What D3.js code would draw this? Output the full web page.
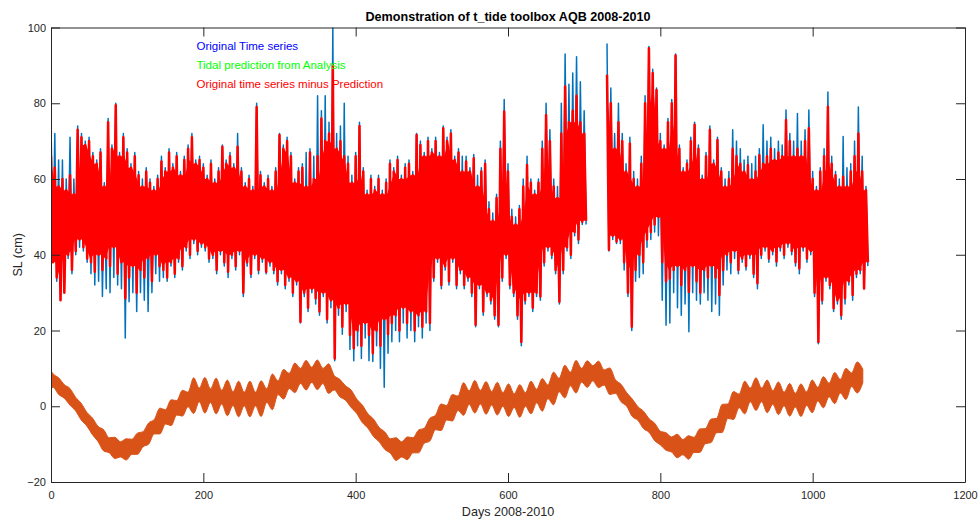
<!DOCTYPE html>
<html>
<head>
<meta charset="utf-8">
<script src="https://cdn.jsdelivr.net/npm/d3@7/dist/d3.min.js"></script>
<style>
  body { margin: 0; background: #fff; }
  text { font-family: "Liberation Sans", Arial, Helvetica, sans-serif; }
</style>
</head>
<body>
<script>
// samples every 5 days: max / min of each bin (null = no data)
let binStep = 5;

let redHi = [
  66, 63, 58, 60, 57, 61, 56, 73, 71, 69,
  70, 66, 64, 67, 58, 75, 68, 79.5, 66, 71,
  67, 63, 66, 61, 58, 62, 59, 57, 60, 64.6,
  62, 67, 63, 66, 61, 65, 68, 71, 64, 65,
  63, 60, 64, 59, 62, 68.5, 64, 66, 63, 68.5,
  62, 58, 60, 57, 79, 61, 58, 60, 57, 62,
  71.6, 68, 70, 66, 59, 62, 63, 58, 67, 60,
  66, 76, 70, 72, 90, 68, 70, 66, 64, 59,
  66, 74, 62, 56, 60, 57, 60, 56, 59, 64,
  62, 65, 60, 63, 64, 61, 71.6, 69, 66, 70,
  67, 70, 66, 73.4, 70, 72, 65, 67, 62, 64.6,
  62, 65.5, 58, 62, 64, 52, 49, 55, 68, 77.8,
  62, 50, 48, 52, 58, 63.7, 59, 56, 59, 68,
  76.9, 70, 58, 55, 72, 84.4, 75, 78, 82, 75,
  72, null, null, null, null, null, 87.5, 80, 68, 75,
  70, 62, 69.4, 60, 58, 64, 80, 94.5, 88, 83.5,
  70, 68, 75, 80, 92.6, 68, 62, 64, 70, 74.3,
  68, 60, 66, 73, 64, 70.3, 62, 58, 60, 68,
  66, 64, 62, 63.7, 60, 62, 66.3, 64, 66, 68,
  65, 67, 66, 75.6, 70, 66, 68, 66, 70, 73.4,
  60, 57, 62, 66, 79.1, 64, 61, 58, 60.6, 58,
  62, 66, 72, 62, 57
];

let redLo = [
  38, 34, 28, 30, 40, 36, 41, 44, 42, 39,
  38, 35.5, 40, 36, 39, 37, 42, 35, 38, 28.5,
  34, 37, 30, 36, 34, 39, 33, 40, 37, 36,
  34, 38, 35, 39, 37, 42, 40, 44, 41, 43,
  42, 39, 40, 36, 41, 38, 35.5, 40, 37, 41,
  30, 38, 35, 40, 36, 39, 35.5, 38, 36, 33,
  36, 32, 34, 30, 33, 22.3, 30, 26, 31, 28.5,
  25, 30, 23, 28, 12.6, 26, 21, 27, 18.8, 15.3,
  20, 16, 22, 18.8, 14, 20, 16, 23, 19, 22,
  24, 20, 26, 22, 25, 20, 24, 21, 25, 22,
  34, 39, 32, 37, 33, 39, 32, 36, 32, 34,
  30, 21.5, 32, 25, 30, 28, 24, 21.5, 34, 40,
  32, 30, 24, 17, 28, 30, 26, 30, 29, 38,
  42, 40, 36, 27.6, 36, 42, 40, 46, 44, 48.7,
  49, null, null, null, null, null, 41.3, 45, 43.5, 44,
  38, 30, 21, 36, 40, 38, 44, 46, 48, 50,
  38, 33, 33.7, 36, 37, 32, 36, 30.2, 37, 33,
  30, 36, 34, 37, 34, 29.4, 36, 40, 38, 41,
  36, 39, 37, 40, 35, 32.5, 40, 42, 39, 41,
  38.2, 42, 40, 43, 41, 38, 36.4, 42, 39, 41,
  30, 17, 28, 34, 32, 25.9, 28, 24, 28.5, 33,
  29.4, 35, 36, 31.1, 38
];

let blueHi = [
  76, 72, 65, 65, 60, 71, 60, 74, 72, 70,
  71, 67, 65, 68, 59, 76, 69, 80, 67, 72,
  68, 64, 67, 62, 60, 63, 60, 58, 61, 66,
  63, 68, 64, 67, 62, 66, 69, 72, 65, 66,
  64, 61, 65, 60, 63, 69, 65, 67, 64, 72,
  63, 59, 61, 58, 80, 62, 59, 61, 58, 63,
  72, 69, 71, 67, 60, 63, 64, 67, 68, 66,
  82, 78, 82, 75, 100, 72, 74, 80, 66, 61,
  67, 75, 63, 57, 61, 58, 61, 57, 60, 65,
  63, 66, 61, 64, 65, 62, 72, 70, 67, 71,
  68, 71, 67, 74, 71, 73, 66, 68, 66, 66,
  63, 66.5, 61, 63, 65, 54, 51, 56, 70, 81,
  64, 52, 50, 53, 60, 66, 60, 57, 60, 70,
  80, 73, 60, 58, 80, 93, 85, 88, 92.3, 85.7,
  78, null, null, null, null, null, 95.8, 84, 72, 80,
  72, 64, 71, 62, 60, 66, 82, 95, 89, 84,
  72, 69, 76, 81, 93, 69, 63, 65, 71, 75,
  69, 61, 67, 74, 65, 71, 63, 60, 62, 73,
  70, 68, 65, 66, 64, 66, 68, 74.3, 70, 71,
  68, 70, 69, 78.2, 72, 70, 77.3, 70, 73, 78.2,
  62, 58, 63, 68, 83, 66, 62, 60, 71.2, 63,
  64, 70, 79, 66, 58
];

let blueLo = [
  38, 33, 28, 30, 39, 35, 40, 42, 41, 38,
  35, 32, 33, 29, 31, 30, 34, 32, 31, 18,
  27.6, 30, 25, 30, 28, 25, 30, 35, 33, 34,
  33, 37, 34, 38, 36, 41, 39, 43, 40, 42,
  41, 38, 39, 35, 40, 37, 34, 39, 36, 40,
  29, 37, 34, 39, 35, 38, 35, 37, 35, 32,
  35, 31, 33, 29, 32, 22, 29, 25, 30, 27,
  24, 29, 22, 26, 12, 24, 19, 25, 15, 12,
  16, 12.6, 18, 12, 11.8, 16, 10, 5, 14, 17,
  20, 17, 22, 18, 20, 17, 21, 18, 22, 20,
  33, 38, 31, 36, 32, 38, 31, 35, 31, 33,
  29, 21, 31, 24, 29, 27, 23, 21, 33, 39,
  31, 29, 23, 16, 27, 29, 25, 29, 28, 37,
  41, 39, 35, 27, 35, 41, 39, 45, 43, 48,
  48, null, null, null, null, null, 41, 44, 43, 43,
  36, 29, 20, 33, 34, 35, 42, 44, 46, 45,
  28, 21.4, 22, 30, 26, 24, 27, 19.7, 30, 28,
  27, 30, 28, 25, 27, 24, 32, 36, 35, 39,
  35, 38, 36, 39, 34, 31, 39, 41, 38, 40,
  37, 41, 39, 42, 40, 37, 35, 41, 38, 40,
  29, 16.5, 27, 33, 31, 25, 27, 23, 27, 32,
  28, 34, 35, 31, 37
];

// tidal prediction: centre and half width, sampled at spring / neap (half a fortnight)
let tideStart = -4.7, tideStep = 7.383;

let tideMid = [
  7.2, 6.8, 5.3, 3.9, 2.5, 0.6, -1.4, -3.4, -5.3, -7.3,
  -9.0, -10.3, -11.0, -11.4, -11.4, -10.7, -9.9, -8.7, -7.2, -5.4,
  -3.9, -2.8, -1.7, -0.4, 0.8, 1.8, 2.8, 3.0, 2.9, 2.8,
  2.7, 2.4, 2.2, 2.0, 1.9, 1.9, 1.9, 1.9, 2.0, 2.8,
  3.8, 4.9, 5.8, 6.7, 7.5, 8.0, 8.2, 8.3, 8.3, 8.0,
  7.3, 6.2, 4.8, 3.5, 2.0, 0.0, -2.0, -3.9, -5.7, -7.5,
  -9.1, -10.5, -11.3, -11.4, -11.1, -10.3, -9.3, -7.8, -6.2, -4.3,
  -2.9, -1.7, -0.4, 0.8, 1.9, 2.3, 2.5, 2.4, 2.2, 2.1,
  2.0, 1.8, 1.6, 1.5, 1.4, 1.8, 2.3, 2.7, 3.0, 3.8,
  4.7, 5.6, 6.5, 7.2, 7.8, 8.2, 8.5, 8.7, 8.4, 7.6,
  6.6, 5.2, 3.5, 1.8, -0.4, -1.9, -3.6, -5.1, -6.8, -8.4,
  -9.3, -10.1, -10.5, -10.8, -10.9, -10.2, -9.1, -7.9, -6.5, -5.1,
  -3.2, -1.3, 0.2, 1.4, 2.3, 3.0, 3.2, 3.0, 2.6, 2.3,
  2.1, 1.9, 1.7, 1.6, 1.6, 2.0, 2.6, 3.2, 3.7, 4.3,
  4.8, 5.3, 5.9, 7.0, 7.6, 8.0
];

let tideHalf = [
  2.2, 1.8, 2.2, 1.8, 2.2, 1.8, 2.2, 1.8, 2.2, 2.0,
  2.8, 2.0, 2.8, 2.0, 2.8, 2.0, 2.8, 2.0, 2.8, 1.9,
  3.4, 1.9, 3.4, 1.9, 3.4, 1.9, 4.7, 1.8, 4.7, 1.8,
  4.7, 1.8, 4.7, 1.8, 4.7, 1.8, 4.7, 1.8, 4.7, 1.8,
  4.7, 1.8, 3.9, 2.0, 3.9, 2.0, 3.9, 2.0, 3.9, 2.0,
  3.9, 1.9, 2.3, 1.9, 2.3, 1.9, 2.3, 1.9, 2.3, 1.9,
  2.3, 1.9, 3.0, 2.0, 3.0, 2.0, 3.0, 2.0, 3.0, 1.9,
  3.5, 1.9, 3.5, 1.9, 4.3, 1.8, 4.3, 1.8, 4.3, 1.8,
  4.3, 1.8, 4.3, 1.8, 4.3, 1.8, 4.3, 1.8, 4.3, 1.8,
  4.3, 1.8, 4.3, 1.8, 4.3, 1.8, 3.5, 2.0, 3.5, 2.0,
  3.5, 1.8, 2.3, 1.8, 2.3, 1.8, 2.3, 1.8, 2.3, 1.8,
  2.3, 2.0, 3.1, 2.0, 3.1, 2.0, 3.1, 2.0, 3.1, 1.9,
  3.7, 1.9, 3.7, 1.8, 4.3, 1.8, 4.3, 1.8, 4.3, 1.8,
  4.3, 1.8, 4.3, 1.8, 4.3, 1.8, 4.3, 1.8, 4.1, 1.8,
  4.1, 1.8, 4.1, 1.8, 4.1, 1.8
];

let xTicks = [0, 200, 400, 600, 800, 1000, 1200];
let yTicks = [-20, 0, 20, 40, 60, 80, 100];

let notes = [
  { text: "Original Time series", day: 191, value: 95, color: "#0000ff" },
  { text: "Tidal prediction from Analysis", day: 191, value: 90, color: "#00ff00" },
  { text: "Original time series minus Prediction", day: 191, value: 85, color: "#ff0000" }
];

let axisColor = "#262626";

let xScale = d3.scaleLinear()
    .domain([0, 1200])
    .range([51, 965]);

let yScale = d3.scaleLinear()
    .domain([-20, 100])
    .range([482, 27.5]);

let svg = d3.select("body")
    .append("svg")
    .attr("width", 978).attr("height", 519);

svg.append("clipPath").attr("id", "plotArea")
    .append("rect")
    .attr("x", xScale(0)).attr("y", yScale(100))
    .attr("width", xScale(1200) - xScale(0))
    .attr("height", yScale(-20) - yScale(100));

function zigzag(hi, lo) {
    let pts = [];
    hi.forEach(function (h, k) {
        if (h === null) { pts.push(null); return; }
        pts.push([k * binStep, h]);
        pts.push([k * binStep + binStep / 2, lo[k]]);
    });
    return pts;
}

// the part of each bin that the dense series covers solidly
function core(hi, lo) {
    return hi.map(function (h, k) {
        if (h === null) return null;
        let hs = [hi[k - 1], h, hi[k + 1]].filter(function (v) { return v != null; });
        let ls = [lo[k - 1], lo[k], lo[k + 1]].filter(function (v) { return v != null; });
        return [k * binStep + binStep / 4, d3.min(hs), d3.max(ls)];
    });
}

let line = d3.line()
    .defined(function (d) { return d !== null; })
    .x(function (d) { return xScale(d[0]); })
    .y(function (d) { return yScale(d[1]); });

let coreArea = d3.area()
    .defined(function (d) { return d !== null; })
    .x(function (d) { return xScale(d[0]); })
    .y0(function (d) { return yScale(d[2]); })
    .y1(function (d) { return yScale(d[1]); });

let plot = svg.append("g").attr("clip-path", "url(#plotArea)");

plot.append("path")
    .attr("d", line(zigzag(blueHi, blueLo)))
    .attr("fill", "none")
    .attr("stroke", "#0072bd")
    .attr("stroke-width", 1.5)
    .attr("stroke-linejoin", "round");

let tideData = tideMid.map(function (m, i) {
    return { day: Math.max(0, tideStart + i * tideStep), hi: m + tideHalf[i], lo: m - tideHalf[i] };
});

let area = d3.area()
    .curve(d3.curveMonotoneX)
    .x(function (d) { return xScale(d.day); })
    .y0(function (d) { return yScale(d.lo); })
    .y1(function (d) { return yScale(d.hi); });

plot.append("path")
    .attr("d", area(tideData))
    .attr("fill", "#d95319")
    .attr("stroke", "#d95319")
    .attr("stroke-width", 1);

plot.append("path")
    .attr("d", coreArea(core(redHi, redLo)))
    .attr("fill", "#ff0000");

plot.append("path")
    .attr("d", line(zigzag(redHi, redLo)))
    .attr("fill", "none")
    .attr("stroke", "#ff0000")
    .attr("stroke-width", 2.5)
    .attr("stroke-linejoin", "round");

// box with inward ticks on all four sides
let axes = [
    svg.append("g").attr("transform", "translate(0," + yScale(-20) + ")")
        .call(d3.axisBottom(xScale).tickValues(xTicks).tickFormat(d3.format("d"))
            .tickSizeInner(-9).tickSizeOuter(0).tickPadding(9)),
    svg.append("g").attr("transform", "translate(0," + yScale(100) + ")")
        .call(d3.axisTop(xScale).tickValues(xTicks).tickSizeInner(-9).tickSizeOuter(0).tickFormat("")),
    svg.append("g").attr("transform", "translate(" + xScale(0) + ",0)")
        .call(d3.axisLeft(yScale).tickValues(yTicks).tickFormat(d3.format("d"))
            .tickSizeInner(-9).tickSizeOuter(0).tickPadding(5)),
    svg.append("g").attr("transform", "translate(" + xScale(1200) + ",0)")
        .call(d3.axisRight(yScale).tickValues(yTicks).tickSizeInner(-9).tickSizeOuter(0).tickFormat(""))
];

axes.forEach(function (g) {
    g.attr("font-size", 11).attr("font-family", null);
    g.select(".domain").attr("stroke", axisColor);
    g.selectAll(".tick line").attr("stroke", axisColor);
    g.selectAll(".tick text").attr("fill", axisColor);
});

svg.append("text")
    .attr("x", (xScale(0) + xScale(1200)) / 2).attr("y", 20.5)
    .attr("text-anchor", "middle")
    .attr("font-size", 12.6).attr("font-weight", "bold")
    .attr("fill", "#000")
    .text("Demonstration of t_tide toolbox AQB 2008-2010");

svg.append("text")
    .attr("x", (xScale(0) + xScale(1200)) / 2).attr("y", 515.5)
    .attr("text-anchor", "middle")
    .attr("font-size", 12.6)
    .attr("fill", axisColor)
    .text("Days 2008-2010");

svg.append("text")
    .attr("transform", "translate(22," + (yScale(-20) + yScale(100)) / 2 + ") rotate(-90)")
    .attr("text-anchor", "middle")
    .attr("font-size", 12.6)
    .attr("fill", axisColor)
    .text("SL (cm)");

svg.selectAll(".note")
    .data(notes).enter()
    .append("text")
    .attr("class", "note")
    .attr("x", function (d) { return xScale(d.day); })
    .attr("y", function (d) { return yScale(d.value); })
    .attr("dy", "0.35em")
    .attr("font-size", 11.5)
    .attr("fill", function (d) { return d.color; })
    .text(function (d) { return d.text; });
</script>
</body>
</html>
